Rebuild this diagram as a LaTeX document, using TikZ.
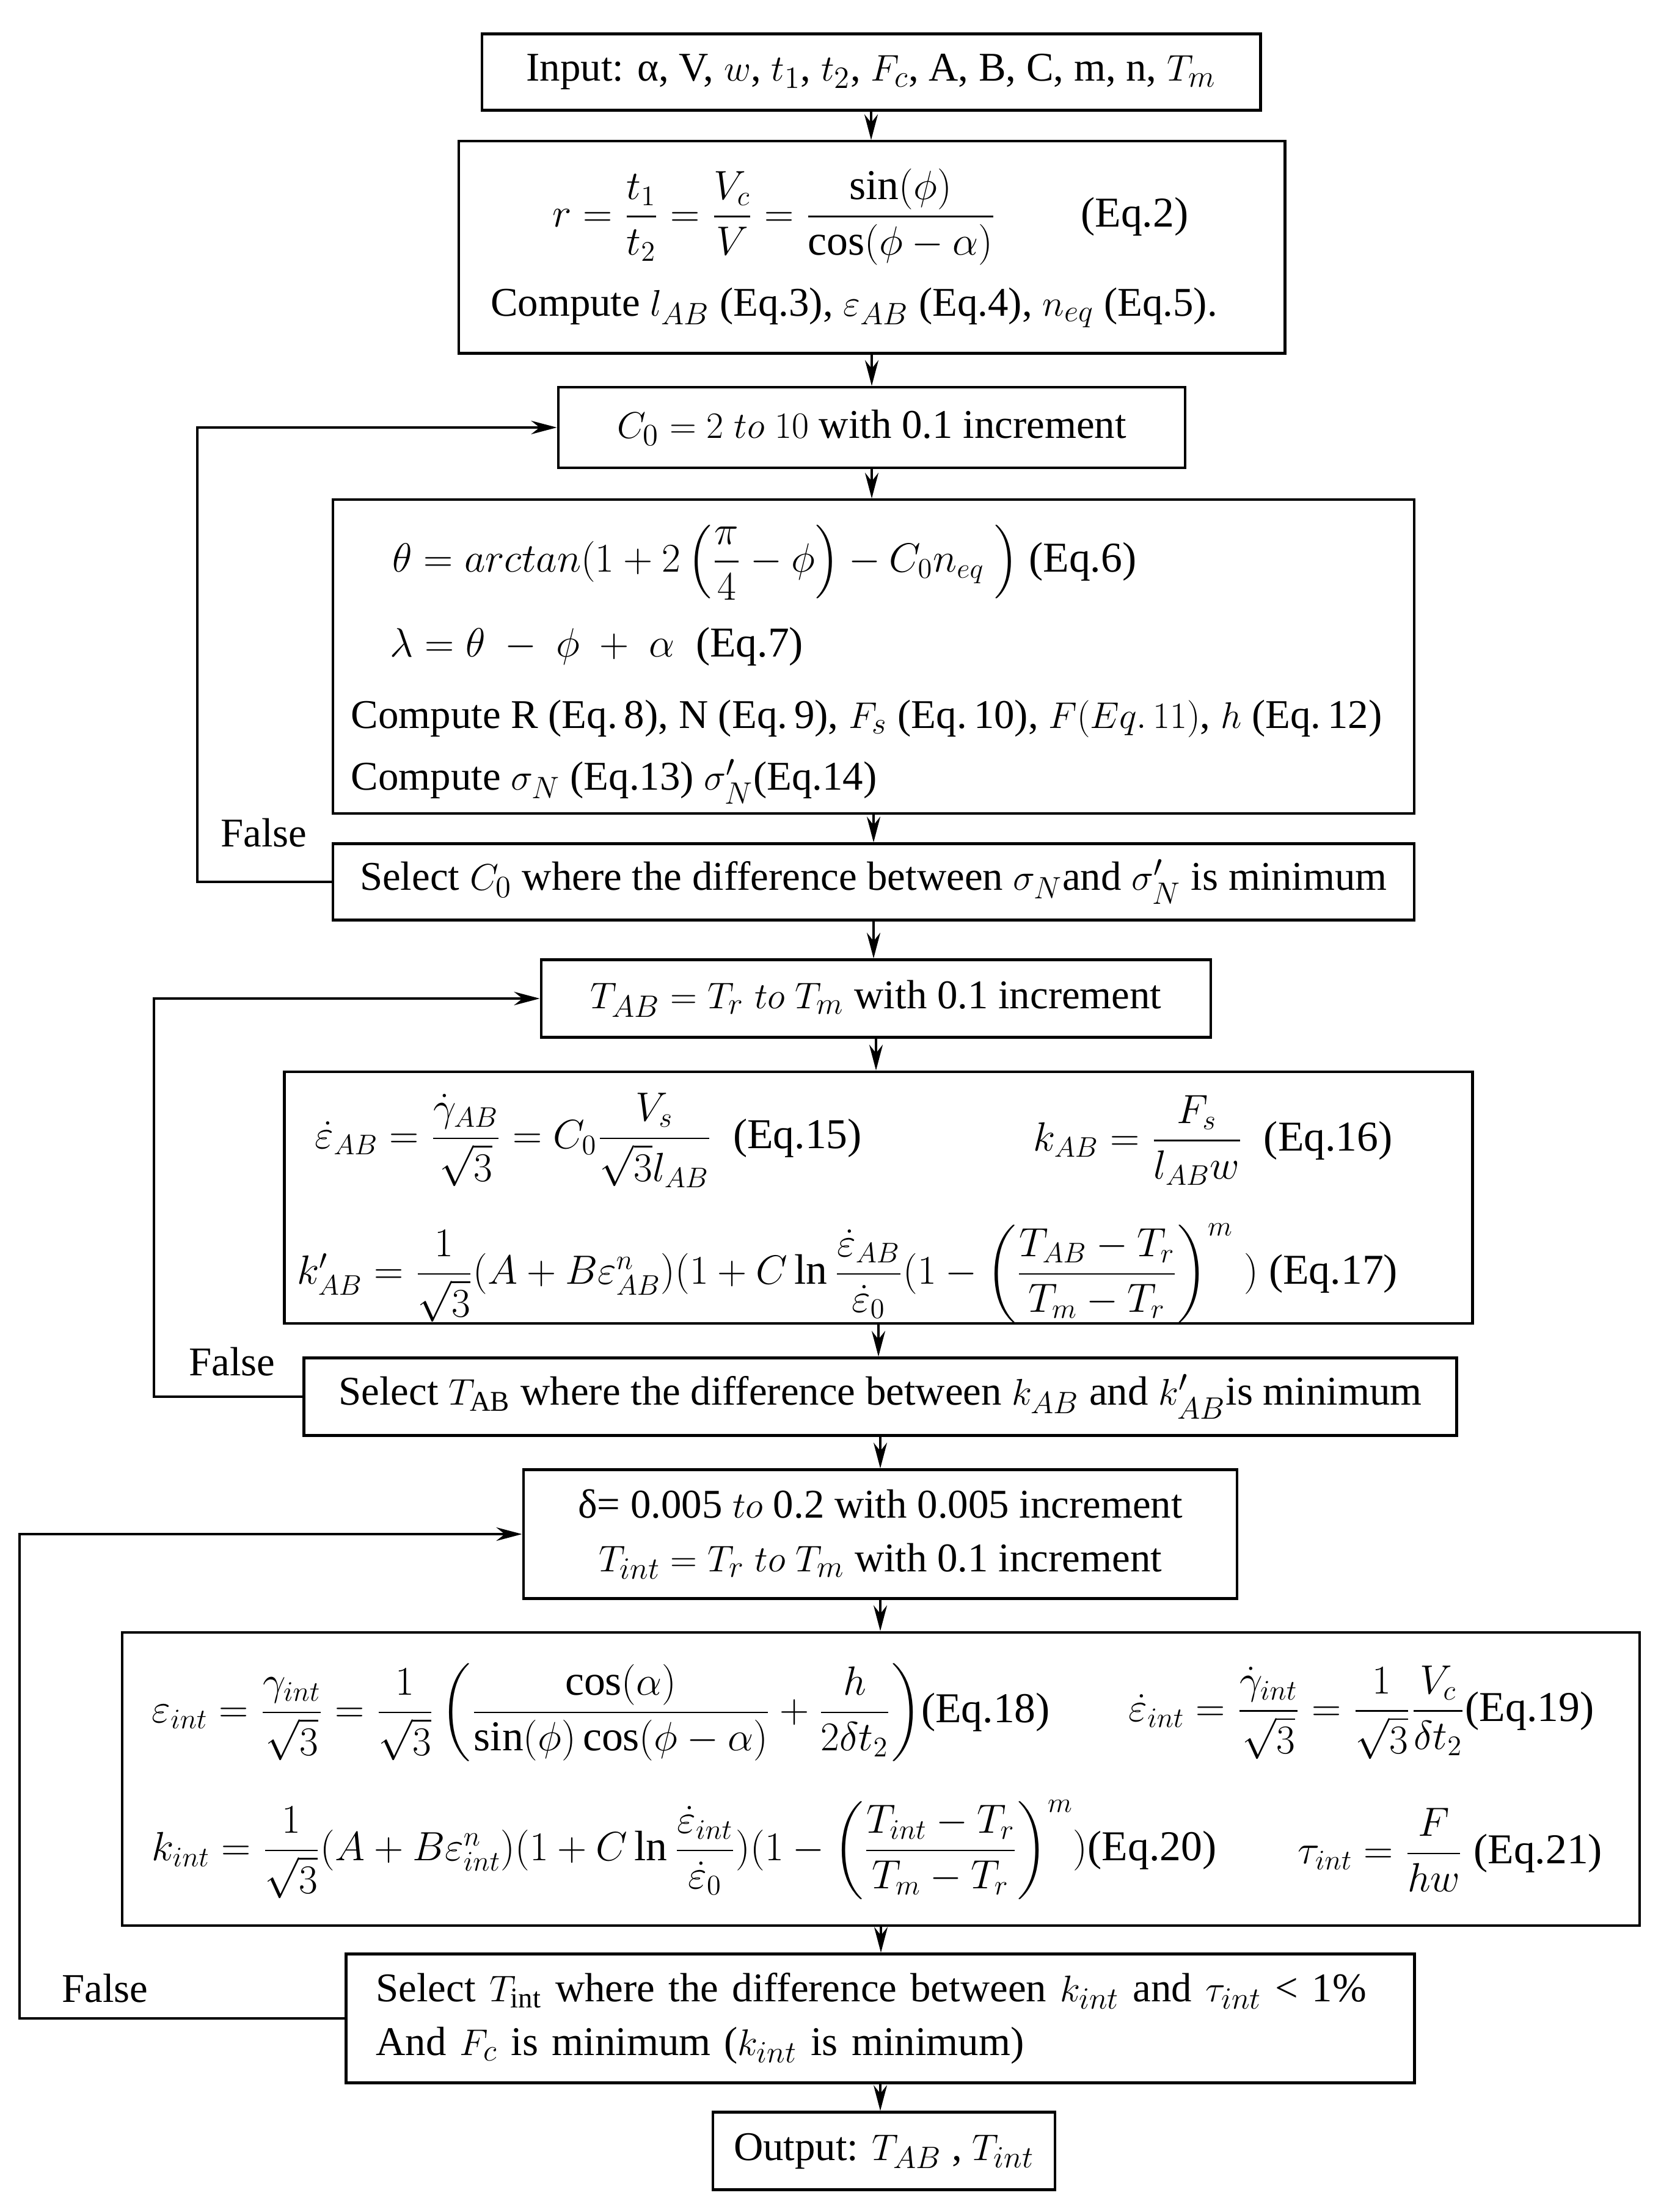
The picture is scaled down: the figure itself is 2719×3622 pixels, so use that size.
\documentclass[tikz,border=0pt]{standalone}
\usepackage{amsmath}
\usepackage{fontspec}
\setmainfont{Liberation Serif}
\usetikzlibrary{arrows.meta}

\newcommand{\eqsize}[1]{\scalebox{1.1}{#1}}

\tikzset{
  block/.style={draw,line width=1.2pt,minimum height=1.27cm,inner sep=0pt,align=center},
  eqline/.style={anchor=west,inner sep=0pt,font=\fontsize{18}{22}\selectfont},
  arr/.style={line width=1.2pt,-{Stealth[length=4.2mm,width=2.2mm]}},
}

\begin{document}
\begin{tikzpicture}[x=0.01cm,y=-0.01cm,font=\fontsize{19}{25}\selectfont]
    \useasboundingbox (0,0) rectangle (2719,3622);

    % input and geometry
    \node[block,minimum width=12.74cm,minimum height=1.25cm] (input) at (1426,118)
      {Input: α, V, $w$, $t_1$, $t_2$, $F_c$, A, B, C, m, n, $T_m$};
    \node[block,minimum width=13.52cm,minimum height=3.47cm] (ratio) at (1427,405) {};
    \node[eqline,anchor=center] (ratioeq) at (1425,355)
      {\eqsize{$r = \dfrac{t_1}{t_2} = \dfrac{V_c}{V} = \dfrac{\sin(\phi)}{\cos(\phi-\alpha)}$\qquad(Eq.2)}};
    \node (ratiotxt) at (1398,504)
      {Compute $l_{AB}$ (Eq.3), $\varepsilon_{AB}$ (Eq.4), $n_{eq}$ (Eq.5).};

    % first loop: C_0
    \node[block,minimum width=10.26cm,minimum height=1.32cm] (cnot) at (1427,700)
      {$C_0 = 2\ to\ 10$ with 0.1 increment};
    \node[block,minimum width=17.69cm,minimum height=5.13cm] (angles) at (1430,1075) {};
    \node[eqline] (thetaeq) at (642,921)
      {\eqsize{$\theta = arctan(1+2\left(\dfrac{\pi}{4}-\phi\right)-C_0n_{eq}\left.\vphantom{\dfrac{\pi}{4}}\right)$ (Eq.6)}};
    \node[eqline] (lambdaeq) at (638,1059)
      {\eqsize{$\lambda = \theta\ -\ \phi\ +\ \alpha$\ \ (Eq.7)}};
    \node[anchor=west,inner sep=0pt] (forces) at (574,1177)
      {Compute R (Eq.\,8), N (Eq.\,9), $F_s$ (Eq.\,10), $F(Eq.\,11)$, $h$ (Eq.\,12)};
    \node[anchor=west,inner sep=0pt] (sigmas) at (574,1280)
      {Compute $\sigma_N$ (Eq.13) $\sigma'_N$(Eq.14)};
    \node[block,minimum width=17.69cm,minimum height=1.25cm] (selc) at (1430,1444)
      {Select $C_0$ where the difference between $\sigma_N$and $\sigma'_N$ is minimum};

    % second loop: T_AB
    \node[block,minimum width=10.96cm] (tab) at (1434,1635)
      {$T_{AB} = T_r\ to\ T_m$ with 0.1 increment};
    \node[block,minimum width=19.44cm,minimum height=4.12cm] (strain) at (1438,1961) {};
    \node[eqline] (rateab) at (515,1867)
      {\eqsize{$\dot{\varepsilon}_{AB} = \dfrac{\dot{\gamma}_{AB}}{\sqrt{3}} = C_0\dfrac{V_s}{\sqrt{3}l_{AB}}$\ \ (Eq.15)}};
    \node[eqline] (kab) at (1691,1867)
      {\eqsize{$k_{AB} = \dfrac{F_s}{l_{AB}w}$\ \ (Eq.16)}};
    \node[eqline] (kabp) at (486,2085)
      {\eqsize{$k'_{AB} = \dfrac{1}{\sqrt{3}}(A+B\varepsilon_{AB}^n)(1+C\ln\dfrac{\dot{\varepsilon}_{AB}}{\dot{\varepsilon}_0}(1-\left(\dfrac{T_{AB}-T_r}{T_m-T_r}\right)^{m}\ )$\ (Eq.17)}};
    \node[block,minimum width=18.86cm] (selt) at (1441,2287)
      {Select $T_{\mathrm{AB}}$ where the difference between $k_{AB}$ and $k'_{AB}$is minimum};

    % third loop: delta and T_int
    \node[block,minimum width=11.68cm,minimum height=2.11cm] (delta) at (1441,2512)
      {δ= 0.005 $to$ 0.2 with 0.005 increment\\ $T_{int} = T_r\ to\ T_m$ with 0.1 increment};
    \node[block,minimum width=24.82cm,minimum height=4.80cm] (shear) at (1442,2913) {};
    \node[eqline] (epsint) at (248,2804)
      {\eqsize{$\varepsilon_{int} = \dfrac{\gamma_{int}}{\sqrt{3}} = \dfrac{1}{\sqrt{3}}\left(\dfrac{\cos(\alpha)}{\sin(\phi)\cos(\phi-\alpha)}+\dfrac{h}{2\delta t_2}\right)$(Eq.18)}};
    \node[eqline] (rateint) at (1847,2804)
      {\eqsize{$\dot{\varepsilon}_{int} = \dfrac{\dot{\gamma}_{int}}{\sqrt{3}} = \dfrac{1}{\sqrt{3}}\dfrac{V_c}{\delta t_2}$(Eq.19)}};
    \node[eqline] (kint) at (248,3029)
      {\eqsize{$k_{int} = \dfrac{1}{\sqrt{3}}(A+B\varepsilon_{int}^n)(1+C\ln\dfrac{\dot{\varepsilon}_{int}}{\dot{\varepsilon}_0})(1-\left(\dfrac{T_{int}-T_r}{T_m-T_r}\right)^{m})$(Eq.20)}};
    \node[eqline] (tauint) at (2124,3029)
      {\eqsize{$\tau_{int} = \dfrac{F}{hw}$ (Eq.21)}};
    \node[block,minimum width=17.48cm,minimum height=2.11cm,inner xsep=0.49cm,text width=16.5cm,align=left] (seli) at (1441,3305)
      {Select $T_{\mathrm{int}}$ where the difference between $k_{int}$ and $\tau_{int}$ < 1\%\\ And $F_c$ is minimum ($k_{int}$ is minimum)};
    \node[block,minimum width=5.60cm] (output) at (1447,3522)
      {Output: $T_{AB}$ , $T_{int}$};

    % main flow
    \foreach \a/\b in {input/ratio,ratio/cnot,cnot/angles,angles/selc,selc/tab,tab/strain,strain/selt,selt/delta,delta/shear,shear/seli,seli/output}
      \draw[arr] (\a.south) -- (\a.south |- \b.north);

    % feedback
    \draw[arr] (selc.west) -- ++(-220,0) |- (cnot.west);
    \draw[arr] (selt.west) -- ++(-243,0) |- (tab.west);
    \draw[arr] (seli.west) -- ++(-532,0) |- (delta.west);
    \node (falsea) at (432,1364) {False};
    \node (falseb) at (380,2230) {False};
    \node (falsec) at (172,3256) {False};
\end{tikzpicture}
\end{document}
